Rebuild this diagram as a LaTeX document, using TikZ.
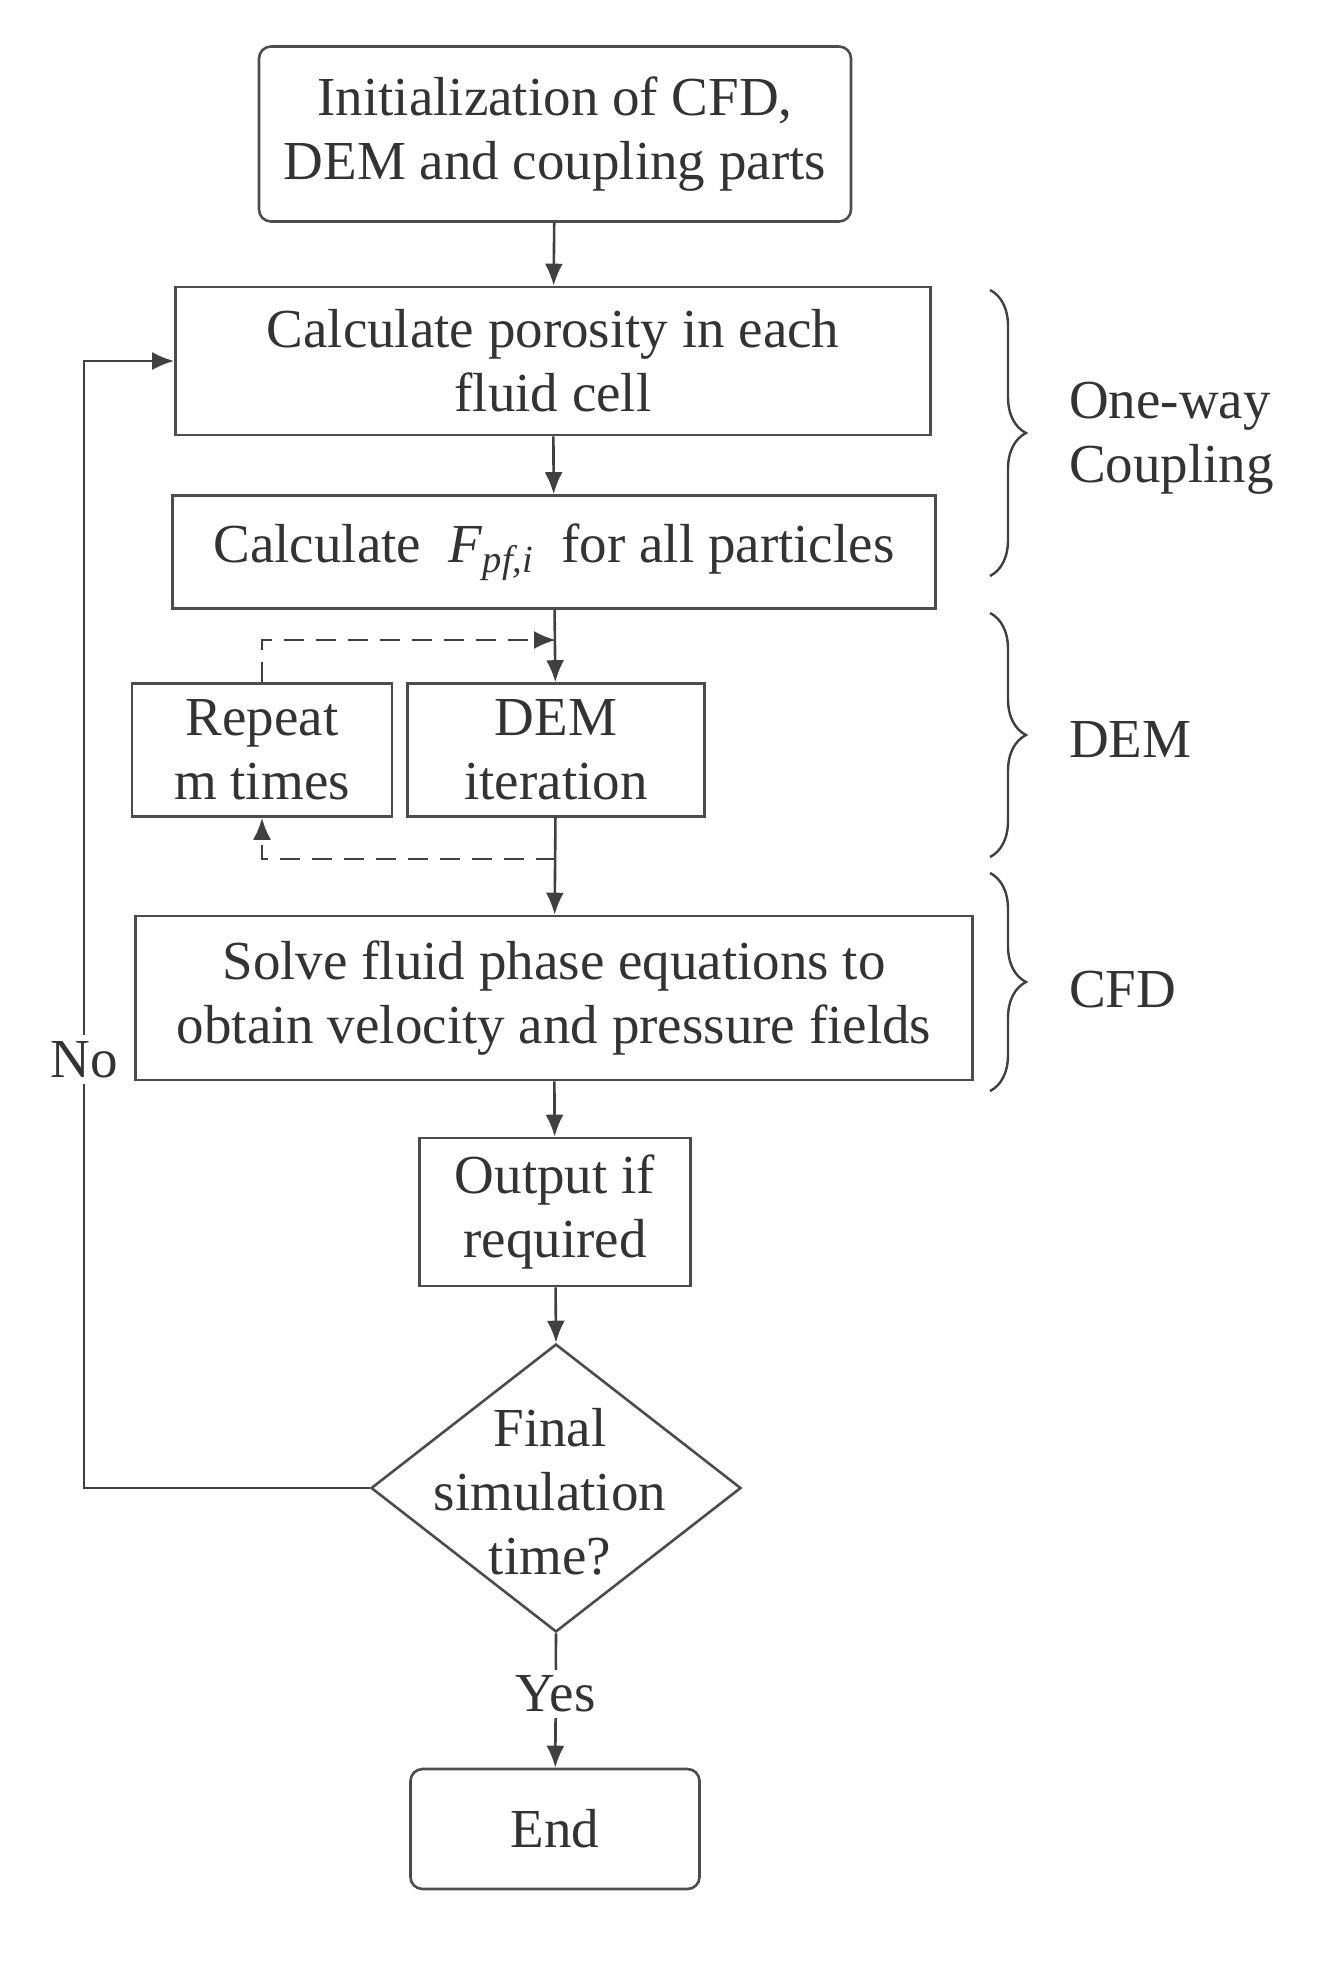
\documentclass[tikz,border=0pt]{standalone}
\usepackage{fontspec}
\setmainfont{Liberation Serif}
\usetikzlibrary{shapes.geometric,arrows.meta,decorations.pathreplacing}
\begin{document}
\begin{tikzpicture}[x=0.5pt,y=-0.5pt,
  every node/.style={font=\fontsize{27.5}{32}\selectfont, text=black!80},
  box/.style={draw=black!70,line width=1.3pt,inner sep=0pt,align=center},
  ar/.style={draw=black!75,line width=1.3pt,-{Latex[length=11pt,width=9pt]}},
  br/.style={draw=black!75,line width=1.2pt,decorate,decoration={brace,amplitude=18pt}}]
\useasboundingbox (0,0) rectangle (1332,1961);
\node[box,rounded corners=6pt,minimum width=296pt,minimum height=87.5pt] (init) at (555,134) {Initialization of CFD,\\DEM and coupling parts};
\node[box,minimum width=377.5pt,minimum height=74pt] (por) at (553,361) {Calculate porosity in each\\fluid cell};
\node[box,minimum width=381.5pt,minimum height=56.5pt] (fpf) at (554,552) {Calculate \ \textit{F}\textsubscript{\textit{pf,i}} \ for all particles};
\node[box,minimum width=130pt,minimum height=66.5pt] (rep) at (262,750) {Repeat\\m times};
\node[box,minimum width=148.5pt,minimum height=66.5pt] (dem) at (556,750) {DEM\\iteration};
\node[box,minimum width=418.5pt,minimum height=82pt] (cfd) at (554,998) {Solve fluid phase equations to\\obtain velocity and pressure fields};
\node[box,minimum width=135.5pt,minimum height=74pt] (out) at (555,1212) {Output if\\required};
\node[box,diamond,aspect=1.28,minimum width=185pt,minimum height=144pt] (dia) at (556,1488) {};
\node[align=center] (diat) at (550,1492) {Final\\simulation\\time?};
\node[box,rounded corners=6pt,minimum width=144.5pt,minimum height=60pt] (end) at (555,1829) {End};
\coordinate (rt) at (262,640);
\coordinate (dt) at (556,640);
\coordinate (rb) at (262,859);
\coordinate (db) at (556,859);
\coordinate (lb) at (84,1488);
\coordinate (lt) at (84,361);
\draw[ar] (init) -- (por);
\draw[ar] (por) -- (fpf);
\draw[ar] (fpf) -- (dem);
\draw[ar] (dem) -- (cfd);
\draw[ar] (cfd) -- (out);
\draw[ar] (out) -- (dia.north);
\draw[ar] (dia.south) -- node[fill=white,inner sep=3pt,pos=0.45] {Yes} (end);
\draw[ar,dash pattern=on 10pt off 6pt] (rep.north) -- (rt) -- (dt);
\draw[ar,dash pattern=on 10pt off 6pt] (db) -- (rb) -- (rep.south);
\draw[ar] (dia.west) -- (lb) -- node[fill=white,inner sep=3pt,pos=0.38] {No} (lt) -- (por.west);
\draw[br] (990,290) -- (990,576);
\draw[br] (990,613) -- (990,857);
\draw[br] (990,873) -- (990,1091);
\node[anchor=west,align=left] at (1062,438) {One-way\\Coupling};
\node[anchor=west] at (1062,740) {DEM};
\node[anchor=west] at (1062,990) {CFD};
\end{tikzpicture}
\end{document}
